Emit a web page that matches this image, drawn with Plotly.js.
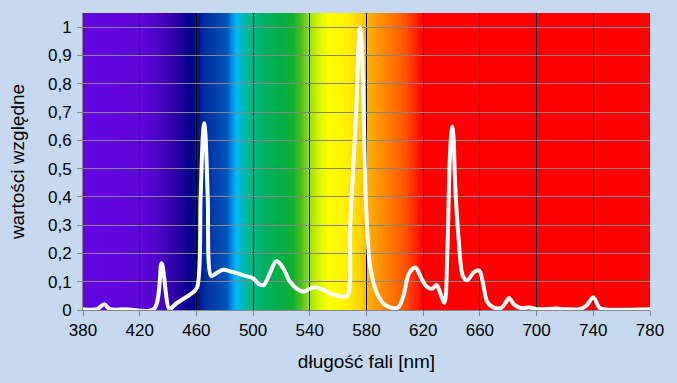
<!DOCTYPE html>
<html>
<head>
<meta charset="utf-8">
<script src="https://cdn.plot.ly/plotly-3.0.1.min.js"></script>
<style>html,body{margin:0;padding:0;background:#C6D9F0;}#chart{width:677px;height:383px;}</style>
</head>
<body>
<div id="chart"></div>
<script>
// Spectrum data (wavelength [nm] -> relative value)
const wavelengths = [380,390,395,399,410,430,435.5,441,445,451,457,460.5,463,464.6,465.5,466.4,468,470.5,474,479,485,490,495,500,504,507.5,511,516.5,521,526,531,535.5,540,544,550,556,562,566.5,568.5,572.8,574.6,575.5,576.4,578,579.5,582.7,587.4,593,602,606,610,614.5,618,622,626,629.5,632,635,637,638.5,639.6,640.5,641.4,642.5,645,648,651,656,659.5,662,665,669,675,678,680.5,684,689,695,700,714,720,730,735,740,744,747,780];
const values = [0.003,0.003,0.02,0.003,0.003,0.003,0.165,0.003,0.02,0.04,0.06,0.08,0.40,0.62,0.66,0.62,0.40,0.12,0.13,0.142,0.135,0.128,0.12,0.112,0.092,0.088,0.12,0.173,0.15,0.10,0.075,0.065,0.075,0.08,0.07,0.055,0.048,0.05,0.30,0.71,0.96,1.0,0.96,0.71,0.39,0.15,0.06,0.018,0.008,0.05,0.13,0.15,0.12,0.085,0.075,0.088,0.06,0.025,0.2,0.5,0.61,0.648,0.61,0.45,0.25,0.12,0.105,0.135,0.14,0.10,0.03,0.01,0.007,0.025,0.042,0.02,0.007,0.009,0.003,0.005,0.003,0.003,0.015,0.045,0.01,0.003,0.003];

// Background spectrum colour stops
const specNm = [380,418,430,440,448,455,461,467,475,482,485,488,491,495,500,508,520,528,534,540,548,553,567,576,582,590,600,608,614,620,780];
const specColors = ['#6207E0','#6006DC','#5405CE','#3C03B4','#22019E','#04008E','#001490','#0032A2','#0044B0','#0058C0','#0090E0','#00B8F8','#00B8D0','#00B8A0','#00B888','#00B060','#00B040','#10B030','#50C020','#A0E010','#E0F800','#FFFF00','#FFF000','#FFD000','#FFB000','#FF9000','#FF7000','#FF5000','#FF2800','#FF0000','#FF0000'];

const xRange = [380, 780];
const yRange = [0, 1.05];
const xTicks = [380,420,460,500,540,580,620,660,700,740,780];

function spectrumImage(){
  const c = document.createElement('canvas');
  c.width = 800; c.height = 2;
  const ctx = c.getContext('2d');
  const g = ctx.createLinearGradient(0,0,c.width,0);
  specNm.forEach((nm,i)=>g.addColorStop((nm-xRange[0])/(xRange[1]-xRange[0]), specColors[i]));
  ctx.fillStyle = g;
  ctx.fillRect(0,0,c.width,c.height);
  return c.toDataURL();
}

const trace = {
  x: wavelengths, y: values, type: 'scatter', mode: 'lines',
  line: {color: '#FFFFFF', width: 4, shape: 'spline', smoothing: 0.9},
  hoverinfo: 'x+y'
};

const font = {family: '"Liberation Sans", Arial, sans-serif', size: 17, color: '#000000'};
const titleFont = {family: '"Liberation Sans", Arial, sans-serif', size: 19, color: '#000000'};

const layout = {
  width: 677, height: 383,
  margin: {l: 83, r: 27, t: 13, b: 73},
  paper_bgcolor: '#C6D9F0',
  plot_bgcolor: 'rgba(0,0,0,0)',
  separators: ',.',
  font: font,
  showlegend: false,
  xaxis: {
    range: xRange, tickvals: xTicks, ticktext: xTicks.map(String),
    showgrid: true, gridcolor: '#000000', gridwidth: 1,
    showline: true, linecolor: '#868686', linewidth: 1,
    ticks: 'outside', ticklen: 5, tickcolor: '#868686',
    zeroline: false, tickfont: font,
    title: {text: 'długość fali [nm]', font: titleFont, standoff: 15}
  },
  yaxis: {
    range: yRange, dtick: 0.1, tick0: 0,
    showgrid: true, gridcolor: '#868686', gridwidth: 1,
    showline: true, linecolor: '#868686', linewidth: 1,
    ticks: 'outside', ticklen: 5, tickcolor: '#868686',
    zeroline: false, tickfont: font, ticklabelstandoff: 2,
    title: {text: 'wartości względne', font: titleFont, standoff: 18}
  },
  images: [{
    source: spectrumImage(), xref: 'x', yref: 'y',
    x: xRange[0], y: yRange[1], sizex: xRange[1]-xRange[0], sizey: yRange[1]-yRange[0],
    xanchor: 'left', yanchor: 'top', sizing: 'stretch', layer: 'below'
  }]
};

Plotly.newPlot('chart', [trace], layout, {displayModeBar: false, staticPlot: true});
</script>
</body>
</html>
